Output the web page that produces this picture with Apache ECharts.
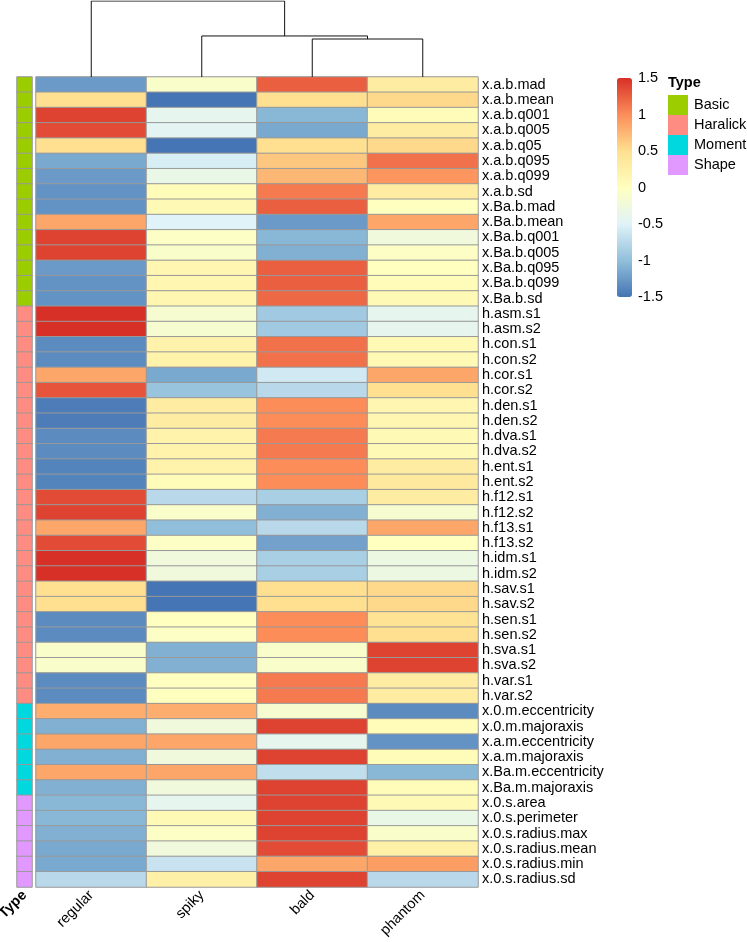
<!DOCTYPE html>
<html>
<head>
<meta charset="utf-8">
<script src="https://cdn.jsdelivr.net/npm/echarts@6/dist/echarts.min.js"></script>
<style>
html, body { margin: 0; padding: 0; background: #fff; }
#main { width: 747px; height: 942px; }
</style>
</head>
<body>
<div id="main"></div>
<script>
// columns and rows
var columns = ['regular', 'spiky', 'bald', 'phantom'];
var rows = [
	'x.a.b.mad', 'x.a.b.mean', 'x.a.b.q001', 'x.a.b.q005', 'x.a.b.q05', 'x.a.b.q095', 'x.a.b.q099', 'x.a.b.sd',
	'x.Ba.b.mad', 'x.Ba.b.mean', 'x.Ba.b.q001', 'x.Ba.b.q005', 'x.Ba.b.q095', 'x.Ba.b.q099', 'x.Ba.b.sd',
	'h.asm.s1', 'h.asm.s2', 'h.con.s1', 'h.con.s2', 'h.cor.s1', 'h.cor.s2', 'h.den.s1', 'h.den.s2',
	'h.dva.s1', 'h.dva.s2', 'h.ent.s1', 'h.ent.s2', 'h.f12.s1', 'h.f12.s2', 'h.f13.s1', 'h.f13.s2',
	'h.idm.s1', 'h.idm.s2', 'h.sav.s1', 'h.sav.s2', 'h.sen.s1', 'h.sen.s2', 'h.sva.s1', 'h.sva.s2',
	'h.var.s1', 'h.var.s2',
	'x.0.m.eccentricity', 'x.0.m.majoraxis', 'x.a.m.eccentricity', 'x.a.m.majoraxis', 'x.Ba.m.eccentricity', 'x.Ba.m.majoraxis',
	'x.0.s.area', 'x.0.s.perimeter', 'x.0.s.radius.max', 'x.0.s.radius.mean', 'x.0.s.radius.min', 'x.0.s.radius.sd'
];
var types = ['Basic', 'Haralick', 'Moment', 'Shape'];
var typeColors = ['#9BCD00', '#FF8C82', '#00D8E0', '#E199FF'];
var rowTypes = [
	'Basic','Basic','Basic','Basic','Basic','Basic','Basic','Basic','Basic','Basic','Basic','Basic','Basic','Basic','Basic',
	'Haralick','Haralick','Haralick','Haralick','Haralick','Haralick','Haralick','Haralick','Haralick','Haralick','Haralick','Haralick','Haralick',
	'Haralick','Haralick','Haralick','Haralick','Haralick','Haralick','Haralick','Haralick','Haralick','Haralick','Haralick','Haralick','Haralick',
	'Moment','Moment','Moment','Moment','Moment','Moment',
	'Shape','Shape','Shape','Shape','Shape','Shape'
];

// row scaled values, one array per column
var regular = [-1.25, 0.5, 1.4, 1.35, 0.5, -1.15, -1.25, -1.3, -1.3, 0.85, 1.4, 1.4, -1.25, -1.3, -1.3,
	1.5, 1.5, -1.35, -1.35, 0.85, 1.3, -1.45, -1.45, -1.35, -1.35, -1.4, -1.4, 1.35, 1.4, 0.85, 1.35,
	1.5, 1.5, 0.5, 0.5, -1.35, -1.35, -0.1, -0.1, -1.35, -1.35,
	0.8, -1.1, 0.85, -1.1, 0.85, -1.1,
	-1.05, -1.05, -1.1, -1.15, -1.15, -0.75];
var spiky = [-0.1, -1.5, -0.4, -0.45, -1.5, -0.55, -0.35, 0.05, 0.1, -0.5, -0.05, -0.1, 0.15, 0.15, 0.15,
	-0.15, -0.15, 0.2, 0.2, -1.15, -0.95, 0.3, 0.3, 0.2, 0.2, 0.2, 0.05, -0.75, -0.1, -1.0, -0.05,
	-0.25, -0.25, -1.5, -1.5, 0.0, -0.05, -1.1, -1.1, 0.0, 0.0,
	0.8, -0.25, 0.85, -0.25, 0.85, -0.25,
	-0.4, 0.1, -0.05, -0.25, -0.65, 0.25];
var bald = [1.25, 0.5, -1.05, -1.15, 0.5, 0.65, 0.75, 1.1, 1.25, -1.25, -1.05, -1.1, 1.25, 1.25, 1.2,
	-0.9, -0.9, 1.15, 1.15, -0.6, -0.75, 1.0, 1.0, 1.1, 1.1, 1.0, 1.0, -0.85, -1.1, -0.75, -1.2,
	-0.85, -0.85, 0.5, 0.5, 1.0, 1.0, -0.1, -0.1, 1.1, 1.1,
	-0.15, 1.4, -0.4, 1.4, -0.7, 1.4,
	1.4, 1.4, 1.4, 1.35, 0.85, 1.4];
var phantom = [0.3, 0.55, 0.05, 0.3, 0.55, 1.15, 0.95, 0.3, 0.0, 0.85, -0.25, -0.05, 0.0, 0.05, 0.1,
	-0.4, -0.4, 0.1, 0.1, 0.85, 0.5, 0.15, 0.15, 0.1, 0.1, 0.3, 0.35, 0.3, -0.15, 0.85, 0.0,
	-0.3, -0.3, 0.55, 0.55, 0.45, 0.5, 1.4, 1.4, 0.3, 0.3,
	-1.35, 0.05, -1.3, 0.05, -1.05, 0.05,
	0.1, -0.35, -0.1, 0.25, 0.9, -0.75];

// column dendrogram: [left node, right node, height]; leaves are 0..3
var merges = [[2, 3, 5.0], [1, 4, 5.4], [0, 5, 10.0]];

var font = "'Liberation Sans', Arial, sans-serif";
var fs = 14.5;
var palette = ['#4575B4', '#91BFDB', '#E0F3F8', '#FFFFBF', '#FEE090', '#FC8D59', '#D73027'];

var myChart = echarts.init(document.getElementById('main'));

var cols = [regular, spiky, bald, phantom];
var heatData = [];
for (var c = 0; c < cols.length; c++) {
	for (var r = 0; r < rows.length; r++) {
		heatData.push([c, r, cols[c][r]]);
	}
}
var annoData = [];
for (var r = 0; r < rows.length; r++) {
	annoData.push([0, r, types.indexOf(rowTypes[r])]);
}

// dendrogram segments
var nodeX = [0, 1, 2, 3];
var nodeH = [0, 0, 0, 0];
var dendroSeries = [];
for (var i = 0; i < merges.length; i++) {
	var a = merges[i][0], b = merges[i][1], h = merges[i][2];
	dendroSeries.push({
		type: 'line',
		xAxisIndex: 2,
		yAxisIndex: 2,
		symbol: 'none',
		silent: true,
		animation: false,
		lineStyle: { color: '#111', width: 1 },
		data: [[nodeX[a], nodeH[a]], [nodeX[a], h], [nodeX[b], h], [nodeX[b], nodeH[b]]]
	});
	nodeX.push((nodeX[a] + nodeX[b]) / 2);
	nodeH.push(h);
}

var pieces = types.map(function (t, i) {
	return { value: i, label: t, color: typeColors[i] };
});

option = {
	animation: false,
	textStyle: { fontFamily: font },
	title: {
		text: 'Type',
		left: 668,
		top: 75,
		padding: 0,
		textStyle: { fontFamily: font, fontSize: fs, fontWeight: 'bold', color: '#000' }
	},
	grid: [
		{ left: 36, top: 77, width: 442, height: 810, outerBoundsMode: 'none' },
		{ left: 17, top: 77, width: 15, height: 810, outerBoundsMode: 'none' },
		{ left: 36, top: 1, width: 442, height: 76, outerBoundsMode: 'none' },
		{ left: 617, top: 78, width: 15, height: 219, outerBoundsMode: 'none' }
	],
	xAxis: [
		{
			type: 'category', gridIndex: 0, data: columns,
			axisLine: { show: false }, axisTick: { show: false },
			axisLabel: { rotate: 45, margin: 6, fontSize: fs, color: '#000', fontFamily: font, interval: 0 }
		},
		{
			type: 'category', gridIndex: 1, data: ['Type'],
			axisLine: { show: false }, axisTick: { show: false },
			axisLabel: { rotate: 45, margin: 6, fontSize: fs, fontWeight: 'bold', color: '#000', fontFamily: font }
		},
		{ type: 'value', gridIndex: 2, min: -0.5, max: 3.5, show: false },
		{ type: 'value', gridIndex: 3, show: false }
	],
	yAxis: [
		{
			type: 'category', gridIndex: 0, data: rows, inverse: true, position: 'right',
			axisLine: { show: false }, axisTick: { show: false },
			axisLabel: { margin: 4, fontSize: fs, color: '#000', fontFamily: font, interval: 0 }
		},
		{ type: 'category', gridIndex: 1, data: rows, inverse: true, show: false },
		{ type: 'value', gridIndex: 2, min: 0, max: 10, show: false },
		{
			type: 'value', gridIndex: 3, min: -1.5, max: 1.5, interval: 0.5, position: 'right',
			axisLine: { show: false }, axisTick: { show: false }, splitLine: { show: false },
			axisLabel: { margin: 6, fontSize: fs, color: '#000', fontFamily: font }
		}
	],
	visualMap: [
		{
			type: 'continuous',
			seriesIndex: 0,
			min: -1.5,
			max: 1.5,
			orient: 'vertical',
			left: 617,
			top: 78,
			itemWidth: 15,
			itemHeight: 219,
			padding: 0,
			calculable: false,
			hoverLink: false,
			text: null,
			inRange: { color: palette }
		},
		{
			type: 'piecewise',
			seriesIndex: 1,
			orient: 'vertical',
			inverse: true,
			left: 668,
			top: 95,
			padding: 0,
			itemWidth: 20,
			itemHeight: 20,
			itemGap: 0,
			itemSymbol: 'rect',
			textGap: 6,
			align: 'left',
			selectedMode: false,
			hoverLink: false,
			pieces: pieces,
			textStyle: { fontSize: fs, color: '#000', fontFamily: font }
		}
	],
	series: [
		{
			type: 'heatmap',
			xAxisIndex: 0,
			yAxisIndex: 0,
			data: heatData,
			silent: true,
			itemStyle: { borderColor: '#999', borderWidth: 1 }
		},
		{
			type: 'heatmap',
			xAxisIndex: 1,
			yAxisIndex: 1,
			data: annoData,
			silent: true,
			itemStyle: { borderColor: '#999', borderWidth: 1 }
		}
	].concat(dendroSeries)
};

myChart.setOption(option);
window.onresize = myChart.resize;
</script>
</body>
</html>
